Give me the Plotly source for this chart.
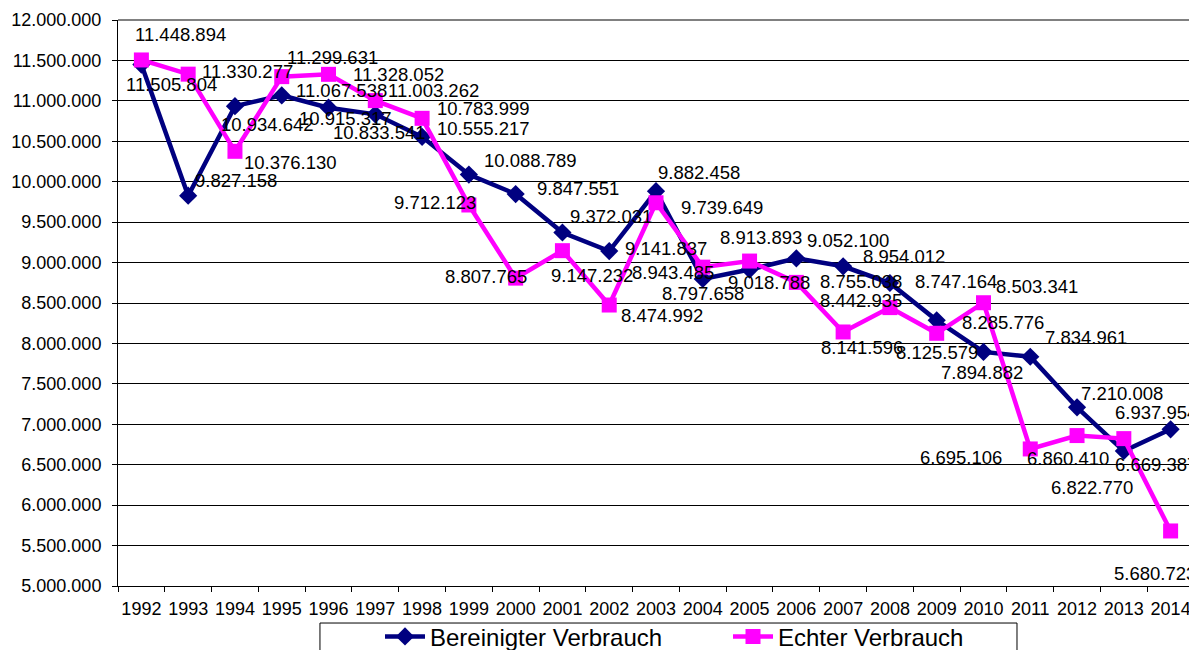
import plotly.graph_objects as go

years = [str(y) for y in range(1992, 2015)]
bereinigt = [11448894, 9827158, 10934642, 11067538, 10915317, 10833541, 10555217,
             10088789, 9847551, 9372031, 9141837, 9882458, 8797658, 8913893,
             9052100, 8954012, 8747164, 8285776, 7894882, 7834961, 7210008,
             6669387, 6937954]
echt = [11505804, 11330277, 10376130, 11299631, 11328052, 11003262, 10783999,
        9712123, 8807765, 9147232, 8474992, 9739649, 8943485, 9018788,
        8755038, 8141596, 8442935, 8125579, 8503341, 6695106, 6860410,
        6822770, 5680723]

# label offsets in pixels (dx right, dy down) – styling only
off_b = [(39, -30), (48, -15), (33, 18), (60, -5), (17, 11), (4, 18), (61, -8),
         (62, -14), (62, -6), (49, -16), (57, -3), (43, -19), (0, 15), (11, -32),
         (52, -18), (61, -10), (66, -2), (66, 2), (-1, 21), (56, -19), (45, -14),
         (32, 13), (-15, -17)]
off_e = [(30, 25), (59, -3), (56, 11), (51, -19), (70, 0), (58, -10), (61, -10),
         (-34, -2), (-30, -2), (30, 25), (53, 10), (66, 5), (-30, 5), (19, 21),
         (65, -1), (19, 16), (-29, -7), (0, 19), (54, -16), (-69, 9), (-9, 23),
         (-32, 49), (-16, 43)]

FONT = "Liberation Sans, Arial, sans-serif"


def fmt(v):
    return "{:,}".format(v).replace(",", ".")


fig = go.Figure()
fig.add_trace(go.Scatter(
    x=years, y=bereinigt, name="Bereinigter Verbrauch", mode="lines+markers",
    line=dict(color="#000080", width=4.5),
    marker=dict(symbol="diamond", size=14, color="#000080"),
))
fig.add_trace(go.Scatter(
    x=years, y=echt, name="Echter Verbrauch", mode="lines+markers",
    line=dict(color="#FF00FF", width=4.5),
    marker=dict(symbol="square", size=15, color="#FF00FF"),
))

annotations = []
for series, offs in ((bereinigt, off_b), (echt, off_e)):
    for i, (v, (dx, dy)) in enumerate(zip(series, offs)):
        annotations.append(dict(
            x=i, y=v, xref="x", yref="y", text=fmt(v), showarrow=False,
            xshift=dx, yshift=-dy, font=dict(family=FONT, size=18.5, color="black"),
        ))

fig.update_layout(
    width=1189, height=642,
    margin=dict(l=110, r=3, t=12, b=64, autoexpand=False),
    paper_bgcolor="white", plot_bgcolor="white",
    separators=",.",
    font=dict(family=FONT, size=18, color="black"),
    showlegend=True,
    legend=dict(
        orientation="h", x=0.2435, xanchor="left", y=-0.05, yanchor="top",
        borderwidth=0, bgcolor="rgba(0,0,0,0)",
        font=dict(family=FONT, size=24, color="black"),
        entrywidth=293, itemwidth=40,
    ),
    annotations=annotations,
    shapes=[
        dict(type="line", xref="paper", yref="paper", x0=0, x1=1, y0=1, y1=1,
             line=dict(color="#808080", width=2)),
        dict(type="line", xref="paper", yref="paper", x0=1, x1=1, y0=0, y1=1,
             line=dict(color="#808080", width=2)),
        dict(type="rect", xref="paper", yref="paper", x0=0.1877, x1=0.8355,
             y0=-0.0654, y1=-0.3, line=dict(color="black", width=1),
             fillcolor="rgba(0,0,0,0)"),
    ],
)
fig.update_xaxes(
    type="category", range=[-0.5, 22.5], showgrid=False, showline=True,
    linecolor="black", linewidth=1, ticks="outside", tickson="boundaries",
    ticklen=5, tickcolor="black", tickfont=dict(size=18), ticklabelstandoff=6,
    tickangle=0,
)
fig.update_yaxes(
    range=[5000000, 12000000], dtick=500000, tickformat=",.0f",
    showgrid=True, gridcolor="black", gridwidth=1, zeroline=False,
    showline=True, linecolor="black", linewidth=1, ticks="outside",
    ticklen=5, tickcolor="black", tickfont=dict(size=18), ticklabelstandoff=7,
)

fig.write_html("out.html")
